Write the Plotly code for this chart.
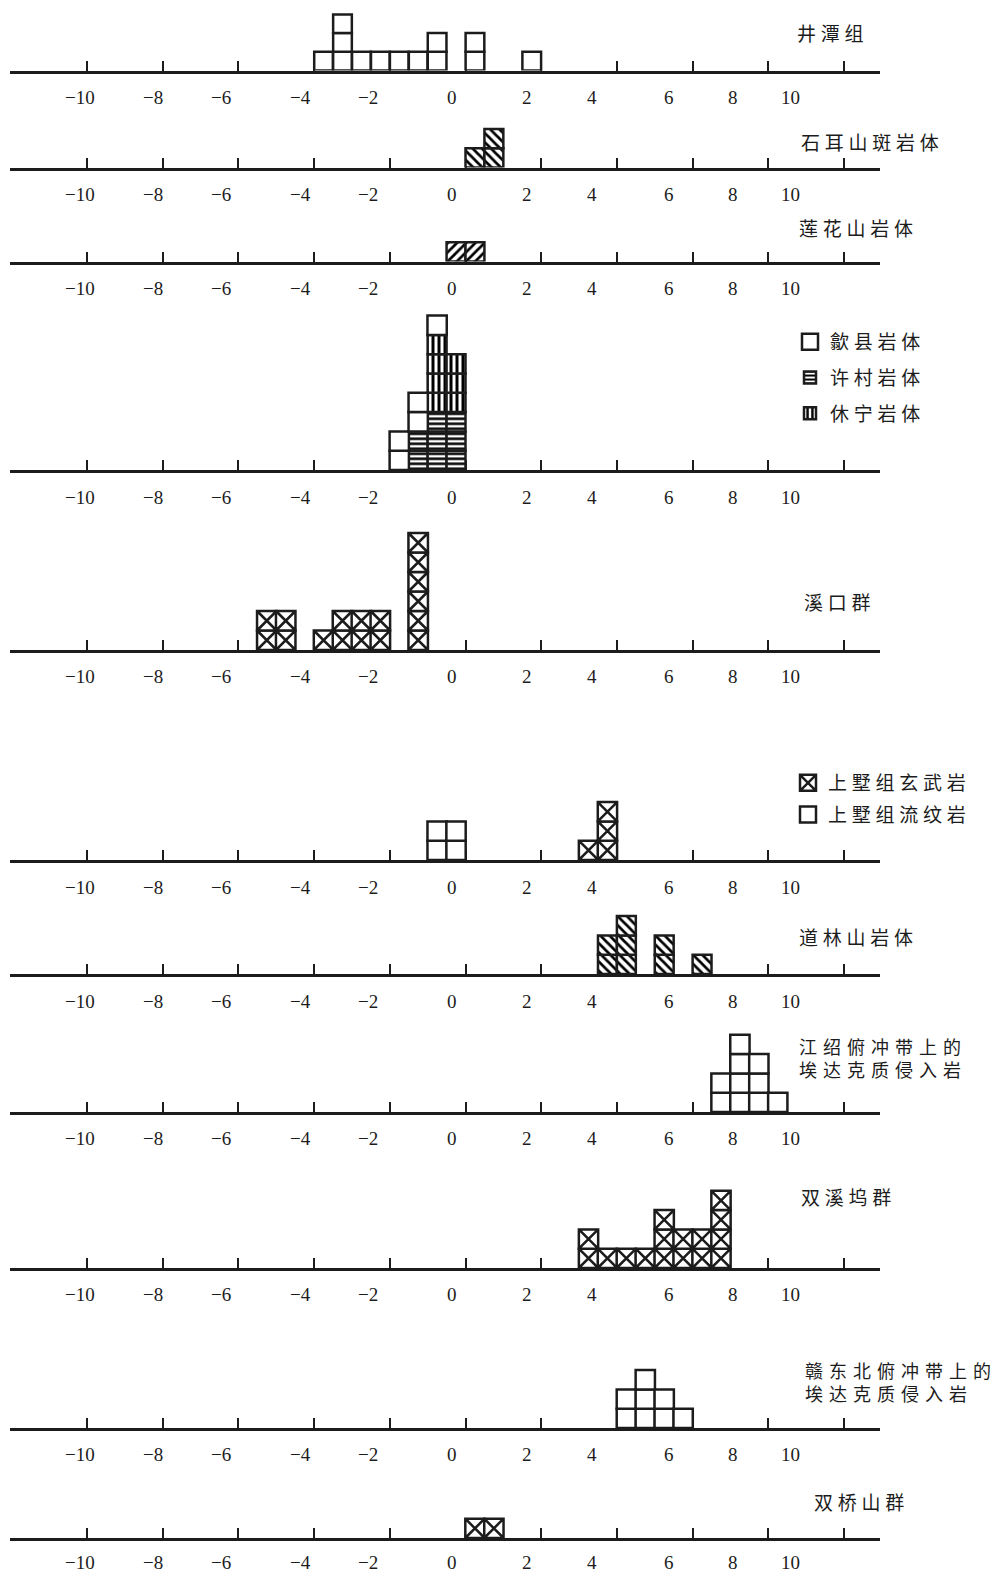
import plotly.graph_objects as go

W, H = 991, 1573
INK = "#1c1c1c"
CJK = "Noto Sans CJK SC"
SERIF = "Liberation Serif"

# ---- data: εNd histogram bins (left edges, width 0.5) and sample counts ----
BIN = 0.5

jingtan_bins = [-4, -3.5, -3, -2.5, -2, -1.5, -1, 0, 1.5]
jingtan_counts = [1, 3, 1, 1, 1, 1, 2, 2, 1]

shiershan_bins = [0, 0.5]
shiershan_counts = [1, 2]

lianhuashan_bins = [-0.5, 0]
lianhuashan_counts = [1, 1]

granite_bins = [-2, -1.5, -1, -0.5]
shexian_counts = [2, 2, 1, 0]
xucun_counts = [0, 2, 3, 3]
xiuning_counts = [0, 0, 4, 3]

xikou_bins = [-5.5, -5, -4, -3.5, -3, -2.5, -1.5]
xikou_counts = [2, 2, 1, 2, 2, 2, 6]

shangshu_rhyolite_bins = [-1, -0.5]
shangshu_rhyolite_counts = [2, 2]
shangshu_basalt_bins = [3, 3.5]
shangshu_basalt_counts = [1, 3]

daolinshan_bins = [3.5, 4, 5, 6]
daolinshan_counts = [2, 3, 2, 1]

jiangshao_bins = [6.5, 7, 7.5, 8]
jiangshao_counts = [2, 4, 3, 1]

shuangxiwu_bins = [3, 3.5, 4, 4.5, 5, 5.5, 6, 6.5]
shuangxiwu_counts = [2, 1, 1, 1, 3, 2, 2, 4]

gandongbei_bins = [4, 4.5, 5, 5.5]
gandongbei_counts = [2, 3, 2, 1]

shuangqiaoshan_bins = [0, 0.5]
shuangqiaoshan_counts = [1, 1]

tick_values = [-10, -8, -6, -4, -2, 0, 2, 4, 6, 8, 10]
tick_labels = ["−10", "−8", "−6", "−4", "−2", "0", "2", "4", "6", "8", "10"]

# ---- layout geometry (pixels) ----
X0, XS = 465.5, 37.85          # pixel of zero, pixels per unit
DOM_L, DOM_R = 10, 880
X_RANGE = [(DOM_L - X0) / XS, (DOM_R - X0) / XS]
LABEL_SHIFT_PX = [-7, -10, -17, -14, -22, -14, -14, -25, -24, -35, -54]

panels = [
    dict(axis=70.5, unit=18.7, ymax=3.6, lab=27),
    dict(axis=167.5, unit=19.3, ymax=4, lab=27),
    dict(axis=261.5, unit=19.3, ymax=4, lab=27),
    dict(axis=470, unit=19.3, ymax=9, lab=27),
    dict(axis=650, unit=19.5, ymax=7, lab=27),
    dict(axis=860, unit=19.3, ymax=4, lab=27),
    dict(axis=974, unit=19.3, ymax=4, lab=27),
    dict(axis=1112, unit=19.3, ymax=5, lab=26),
    dict(axis=1268, unit=19.3, ymax=5, lab=26),
    dict(axis=1428, unit=19.3, ymax=4, lab=26),
    dict(axis=1538, unit=19.3, ymax=3, lab=24),
]


def spaced(s, gap="\u2005"):
    return gap.join(s)


def ax_ids(i):
    return ("x", "y") if i == 1 else (f"x{i}", f"y{i}")


def cells(bins, counts, start=None):
    xs, bases = [], []
    for j, (b, c) in enumerate(zip(bins, counts)):
        s = start[j] if start else 0
        for k in range(c):
            xs.append(b + BIN / 2)
            bases.append(s + k)
    return xs, bases


fig = go.Figure()


def hatched(i, bins, counts, shape, size, solidity, start=None, name=None, legend=None):
    xa, ya = ax_ids(i)
    xs, bases = cells(bins, counts, start)
    fig.add_trace(go.Bar(
        x=xs, y=[1] * len(xs), base=bases, width=BIN, xaxis=xa, yaxis=ya,
        marker=dict(color="white", line=dict(color=INK, width=2.5),
                    pattern=dict(shape=shape, size=size, solidity=solidity,
                                 fgcolor="#000000", bgcolor="white",
                                 fgopacity=1)),
        name=name or "", showlegend=legend is not None,
        legend=legend or "legend", legendgroup=name, hoverinfo="skip"))


def boxes(i, bins, counts, symbol, unit, start=None, name=None, legend=None):
    xa, ya = ax_ids(i)
    xs, bases = cells(bins, counts, start)
    fig.add_trace(go.Scatter(
        x=xs, y=[b + 0.5 for b in bases], xaxis=xa, yaxis=ya, mode="markers",
        marker=dict(symbol=symbol, size=unit, color="white",
                    line=dict(color=INK, width=2.5)),
        name=name or "", showlegend=legend is not None,
        legend=legend or "legend", legendgroup=name, hoverinfo="skip"))


u = [p["unit"] for p in panels]

# panel 1: 井潭组
boxes(1, jingtan_bins, jingtan_counts, "square", u[0])
# panel 2: 石耳山斑岩体
hatched(2, shiershan_bins, shiershan_counts, "\\", 6.5, 0.42)
# panel 3: 莲花山岩体
hatched(3, lianhuashan_bins, lianhuashan_counts, "/", 6.5, 0.42)
# panel 4: stacked granites (许村 bottom, 休宁 middle, 歙县 top)
xiuning_start = list(xucun_counts)
shexian_start = [a + b for a, b in zip(xucun_counts, xiuning_counts)]
boxes(4, granite_bins, shexian_counts, "square", u[3], start=shexian_start,
      name=spaced("歙县岩体"), legend="legend")
hatched(4, granite_bins, xucun_counts, "-", 5, 0.5,
        name=spaced("许村岩体"), legend="legend")
hatched(4, granite_bins, xiuning_counts, "|", 6, 0.5, start=xiuning_start,
        name=spaced("休宁岩体"), legend="legend")
# panel 5: 溪口群
boxes(5, xikou_bins, xikou_counts, "square-x", u[4])
# panel 6: 上墅组
boxes(6, shangshu_basalt_bins, shangshu_basalt_counts, "square-x", u[5],
      name=spaced("上墅组玄武岩"), legend="legend2")
boxes(6, shangshu_rhyolite_bins, shangshu_rhyolite_counts, "square", u[5],
      name=spaced("上墅组流纹岩"), legend="legend2")
# panel 7: 道林山岩体
hatched(7, daolinshan_bins, daolinshan_counts, "\\", 6.5, 0.42)
# panel 8: 江绍俯冲带上的埃达克质侵入岩
boxes(8, jiangshao_bins, jiangshao_counts, "square", u[7])
# panel 9: 双溪坞群
boxes(9, shuangxiwu_bins, shuangxiwu_counts, "square-x", u[8])
# panel 10: 赣东北俯冲带上的埃达克质侵入岩
boxes(10, gandongbei_bins, gandongbei_counts, "square", u[9])
# panel 11: 双桥山群
boxes(11, shuangqiaoshan_bins, shuangqiaoshan_counts, "square-x", u[10])

layout = dict(
    width=W, height=H, margin=dict(l=0, r=0, t=0, b=0),
    paper_bgcolor="white", plot_bgcolor="rgba(0,0,0,0)",
    barmode="overlay", showlegend=True,
    legend=dict(x=790 / W, y=1 - 323 / H, xanchor="left", yanchor="top",
                bgcolor="rgba(0,0,0,0)", tracegroupgap=8, traceorder="grouped",
                font=dict(family=CJK, size=19, color=INK)),
    legend2=dict(x=788 / W, y=1 - 764 / H, xanchor="left", yanchor="top",
                 bgcolor="rgba(0,0,0,0)", tracegroupgap=4, traceorder="grouped",
                 font=dict(family=CJK, size=19, color=INK)),
)

annotations = []
for i, p in enumerate(panels, start=1):
    xa, ya = ax_ids(i)
    xkey = "xaxis" if i == 1 else f"xaxis{i}"
    ykey = "yaxis" if i == 1 else f"yaxis{i}"
    bottom = 1 - p["axis"] / H
    top = 1 - (p["axis"] - p["unit"] * p["ymax"]) / H
    layout[xkey] = dict(
        domain=[DOM_L / W, DOM_R / W], anchor=ya, range=X_RANGE,
        showline=True, linewidth=3, linecolor=INK, layer="below traces",
        ticks="inside", ticklen=10, tickwidth=2, tickcolor=INK,
        tickvals=tick_values, showticklabels=False,
        showgrid=False, zeroline=False, fixedrange=True)
    layout[ykey] = dict(domain=[bottom, top], anchor=xa, range=[0, p["ymax"]],
                        visible=False, fixedrange=True)
    for v, lab, sh in zip(tick_values, tick_labels, LABEL_SHIFT_PX):
        annotations.append(dict(
            x=v + sh / XS, xref=xa, y=1 - (p["axis"] + p["lab"]) / H, yref="paper",
            text=lab, showarrow=False, xanchor="center", yanchor="middle",
            font=dict(family=SERIF, size=19, color=INK)))

# panel captions: (text, left px, centre px, font size, character gap)
titles = [
    ("井潭组", 795, 32, 19, "\u2005"),
    ("石耳山斑岩体", 799, 141, 19, "\u2005"),
    ("莲花山岩体", 797, 227, 19, "\u2005"),
    ("溪口群", 802, 601, 19, "\u2005"),
    ("道林山岩体", 797, 937, 19, "\u2005"),
    ("江绍俯冲带上的\n埃达克质侵入岩", 797, 1057, 18, "\u2004"),
    ("双溪坞群", 799, 1196, 19, "\u2005"),
    ("赣东北俯冲带上的\n埃达克质侵入岩", 803, 1381, 18, "\u2004"),
    ("双桥山群", 812, 1501, 19, "\u2005"),
]
for text, xp, yp, fs, gap in titles:
    shown = "<br>".join(spaced(line, gap) for line in text.split("\n"))
    annotations.append(dict(
        x=xp / W, y=1 - yp / H, xref="paper", yref="paper", text=shown,
        showarrow=False, xanchor="left", yanchor="middle", align="left",
        font=dict(family=CJK, size=fs, color=INK)))

layout["annotations"] = annotations
fig.update_layout(**layout)
fig.write_html("out.html")
